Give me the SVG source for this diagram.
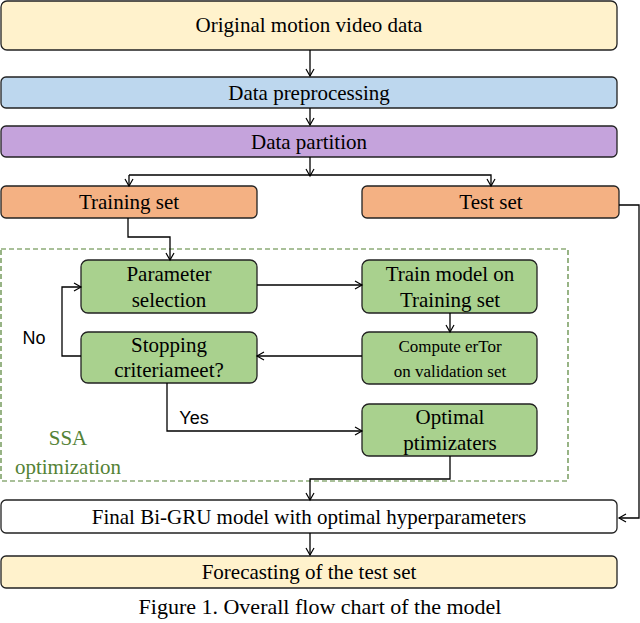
<svg xmlns="http://www.w3.org/2000/svg" width="640" height="623" viewBox="0 0 640 623">
<defs><marker id="a" markerWidth="10" markerHeight="10" refX="8" refY="5" orient="auto" markerUnits="userSpaceOnUse"><path d="M1,1 L8,5 L1,9" fill="none" stroke="#000" stroke-width="1.2"/></marker></defs>
<style>
.b{stroke:#222;stroke-width:1.3}
.t{font-family:"Liberation Serif",serif;font-size:21px;text-anchor:middle;fill:#000}
.s{font-family:"Liberation Serif",serif;font-size:17px;text-anchor:middle;fill:#000}
.c{fill:none;stroke:#000;stroke-width:1.3;marker-end:url(#a)}
.g{fill:#a9d18e}
</style>
<rect width="640" height="623" fill="#fff"/>
<g id="n1"><rect class="b" x="1" y="1" width="616" height="49" rx="6" fill="#fff2cc"/><text class="t" x="309" y="32">Original motion video data</text></g>
<g id="n2"><rect class="b" x="1" y="77" width="616" height="31" rx="5" fill="#bdd7ee"/><text class="t" x="309" y="100">Data preprocessing</text></g>
<g id="n3"><rect class="b" x="1" y="126" width="616" height="31" rx="5" fill="#c5a3dc"/><text class="t" x="309" y="149">Data partition</text></g>
<g id="n4"><rect class="b" x="1" y="186" width="256" height="32" rx="5" fill="#f4b183"/><text class="t" x="129" y="209">Training set</text></g>
<g id="n5"><rect class="b" x="362" y="186" width="257" height="32" rx="5" fill="#f4b183"/><text class="t" x="491" y="209">Test set</text></g>
<g id="ssa"><rect x="1" y="249" width="567" height="232" fill="none" stroke="#548235" stroke-width="1.2" stroke-dasharray="5,3"/><text x="68" y="445" font-family="Liberation Serif,serif" font-size="21" fill="#548235" text-anchor="middle">SSA</text><text x="68" y="474" font-family="Liberation Serif,serif" font-size="21" fill="#548235" text-anchor="middle">optimization</text></g>
<g id="n6"><rect class="b g" x="81" y="260" width="176" height="53" rx="7"/><text class="t" x="169" y="281">Parameter</text><text class="t" x="169" y="307">selection</text></g>
<g id="n7"><rect class="b g" x="362" y="260" width="175" height="53" rx="7"/><text class="t" x="450" y="281">Train model on</text><text class="t" x="450" y="307">Training set</text></g>
<g id="n8"><rect class="b g" x="362" y="332" width="175" height="52" rx="7"/><text class="s" x="450" y="352">Compute erTor</text><text class="s" x="450" y="377">on validation set</text></g>
<g id="n9"><rect class="b g" x="81" y="332" width="176" height="51" rx="7"/><text class="t" x="169" y="352">Stopping</text><text class="t" x="169" y="377">criteriameet?</text></g>
<g id="n10"><rect class="b g" x="362" y="404" width="175" height="52" rx="7"/><text class="t" x="450" y="424">Optimal</text><text class="t" x="450" y="450">ptimizaters</text></g>
<g id="n11"><rect class="b" x="1" y="500" width="616" height="33" rx="5" fill="#fff"/><text class="t" x="309" y="524">Final Bi-GRU model with optimal hyperparameters</text></g>
<g id="n12"><rect class="b" x="1" y="556" width="616" height="32" rx="5" fill="#fff2cc"/><text class="t" x="309" y="579">Forecasting of the test set</text></g>
<text x="320" y="614" font-family="Liberation Serif,serif" font-size="22" text-anchor="middle">Figure 1. Overall flow chart of the model</text>
<g id="connectors">
<path class="c" d="M310,50 V76"/>
<path class="c" d="M310,108 V125"/>
<path class="c" d="M310,157 V176"/>
<path class="c" d="M129,175 H491 V186"/>
<path class="c" d="M129,175 V186"/>
<path class="c" d="M128,218 V237 H170 V260"/>
<path class="c" d="M257,285 H362"/>
<path class="c" d="M450,313 V332"/>
<path class="c" d="M362,356 H257"/>
<path class="c" d="M81,356 H62 V287 H81"/>
<path class="c" d="M167,383 V431 H362"/>
<path class="c" d="M450,456 V479 H310 V500"/>
<path class="c" d="M619,205 H639 V518 H619"/>
<path class="c" d="M310,533 V555"/>
</g>
<text x="34" y="344" font-family="Liberation Sans,sans-serif" font-size="18" text-anchor="middle">No</text>
<text x="194" y="424" font-family="Liberation Sans,sans-serif" font-size="18" text-anchor="middle">Yes</text>
</svg>
